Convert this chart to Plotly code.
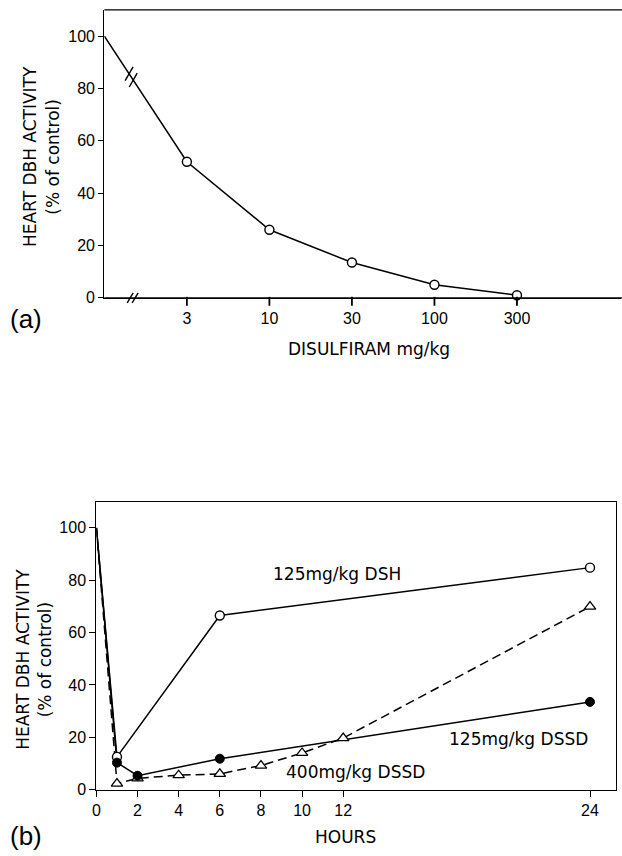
import plotly.graph_objects as go

# ---------------- data ----------------
# (a) dose-response
dose_labels = ["3", "10", "30", "100", "300"]
dose_index = [1, 2, 3, 4, 5]
control_index = [0]
control_value = [100]
dose_values = [52, 26, 13.5, 5, 1]

# (b) time course
hour_ticks = [0, 2, 4, 6, 8, 10, 12, 24]
dsh_hours = [0, 1, 6, 24]
dsh_values = [100, 12.5, 66.5, 84.8]
dssd125_hours = [0, 1, 2, 6, 24]
dssd125_values = [100, 10.3, 5.3, 11.8, 33.5]
dssd400_hours = [0, 1, 2, 4, 6, 8, 10, 12, 24]
dssd400_values = [100, 2.3, 4.3, 5.5, 6.0, 9.2, 14.0, 19.7, 69.9]

W, H = 622, 856
def px(x):
    return x / W
def py(y):
    return 1 - y / H

TICKFONT = dict(family="Liberation Sans, Arial, sans-serif", size=16, color="black")
TXTFONT = dict(family="DejaVu Sans, sans-serif", size=17, color="black")
LW = 1.5

# panel (a) axis geometry
XU, YU = 83.0, 2.65  # px per data unit
A_XDOM = [px(101), 0.999]
A_XRANGE = [0, (621 - 101) / XU]
A_YDOM = [py(301), py(10)]
A_YRANGE = [0, 110]

def ax_paper(d):
    return A_XDOM[0] + (d - A_XRANGE[0]) / (A_XRANGE[1] - A_XRANGE[0]) * (A_XDOM[1] - A_XDOM[0])
def ay_paper(v):
    return A_YDOM[0] + (v - A_YRANGE[0]) / (A_YRANGE[1] - A_YRANGE[0]) * (A_YDOM[1] - A_YDOM[0])

fig = go.Figure()

# ---- (a) ----
fig.add_trace(go.Scatter(
    x=control_index + dose_index, y=control_value + dose_values,
    mode="lines", line=dict(color="black", width=LW),
    xaxis="x", yaxis="y", showlegend=False, hoverinfo="skip", cliponaxis=False))
fig.add_trace(go.Scatter(
    x=dose_index, y=dose_values, mode="markers",
    marker=dict(symbol="circle", size=9, color="white", line=dict(color="black", width=1.4)),
    xaxis="x", yaxis="y", showlegend=False, cliponaxis=False))

# ---- (b) ----
fig.add_trace(go.Scatter(
    x=dssd400_hours, y=dssd400_values, mode="lines",
    line=dict(color="black", width=LW, dash="9px,5px"),
    xaxis="x2", yaxis="y2", showlegend=False))
fig.add_trace(go.Scatter(
    x=dsh_hours, y=dsh_values, mode="lines",
    line=dict(color="black", width=LW),
    xaxis="x2", yaxis="y2", showlegend=False))
fig.add_trace(go.Scatter(
    x=dssd125_hours, y=dssd125_values, mode="lines",
    line=dict(color="black", width=LW),
    xaxis="x2", yaxis="y2", showlegend=False))
fig.add_trace(go.Scatter(
    x=dssd400_hours[1:], y=dssd400_values[1:], mode="markers",
    marker=dict(symbol="triangle-up", size=10, color="white", line=dict(color="black", width=1.3)),
    xaxis="x2", yaxis="y2", showlegend=False, cliponaxis=False))
fig.add_trace(go.Scatter(
    x=dsh_hours[1:], y=dsh_values[1:], mode="markers",
    marker=dict(symbol="circle", size=9, color="white", line=dict(color="black", width=1.4)),
    xaxis="x2", yaxis="y2", showlegend=False, cliponaxis=False))
fig.add_trace(go.Scatter(
    x=dssd125_hours[1:], y=dssd125_values[1:], mode="markers",
    marker=dict(symbol="circle", size=9, color="black", line=dict(color="black", width=1)),
    xaxis="x2", yaxis="y2", showlegend=False, cliponaxis=False))

# ---- frame, ticks + break marks (decoration) on panel (a), in paper coords ----
blk = dict(color="black", width=1.3)
shapes = [
    dict(type="line", xref="paper", yref="paper", x0=A_XDOM[0], x1=1.0, y0=A_YDOM[1], y1=A_YDOM[1], line=blk),
    dict(type="line", xref="paper", yref="paper", x0=A_XDOM[0], x1=1.0, y0=A_YDOM[0], y1=A_YDOM[0], line=blk),
]
for d in dose_index:
    xp = ax_paper(d)
    shapes.append(dict(type="line", xref="paper", yref="paper", x0=xp, x1=xp,
                       y0=A_YDOM[0] + 1 / H, y1=A_YDOM[0] - 8 / H,
                       line=dict(color="black", width=1.8)))
# axis break "//"
for cx in (127, 132):
    shapes.append(dict(type="line", xref="paper", yref="paper",
                       x0=px(cx - 3), y0=A_YDOM[0] - 5 / H, x1=px(cx + 3), y1=A_YDOM[0] + 5 / H,
                       line=dict(color="black", width=1.4)))
# line break "//" on the first segment
seg = [(control_index[0], control_value[0]), (dose_index[0], dose_values[0])]
for cxd in (0.30, 0.35):
    yd = seg[0][1] + (seg[1][1] - seg[0][1]) * (cxd - seg[0][0]) / (seg[1][0] - seg[0][0])
    xp, yp = ax_paper(cxd), ay_paper(yd)
    shapes.append(dict(type="line", xref="paper", yref="paper",
                       x0=xp - 4 / W, y0=yp - 7 / H, x1=xp + 4 / W, y1=yp + 7 / H,
                       line=dict(color="black", width=1.4)))

annotations = [
    dict(text="HEART DBH ACTIVITY<br>(% of control)", x=px(38), y=py(158), xref="paper", yref="paper",
         textangle=-90, showarrow=False, font=TXTFONT, xanchor="center", yanchor="middle"),
    dict(text="HEART DBH ACTIVITY<br>(% of control)", x=px(30), y=py(666), xref="paper", yref="paper",
         textangle=-90, showarrow=False, font=TXTFONT, xanchor="center", yanchor="middle"),
    dict(text="DISULFIRAM mg/kg", x=px(367), y=py(353), xref="paper", yref="paper",
         showarrow=False, font=TXTFONT, xanchor="center", yanchor="middle"),
    dict(text="HOURS", x=px(344), y=py(846), xref="paper", yref="paper",
         showarrow=False, font=TXTFONT, xanchor="center", yanchor="middle"),
    dict(text="(a)", x=px(22), y=py(322), xref="paper", yref="paper",
         showarrow=False, font=dict(family="Liberation Sans, Arial", size=26, color="black"),
         xanchor="center", yanchor="middle"),
    dict(text="(b)", x=px(22), y=py(845), xref="paper", yref="paper",
         showarrow=False, font=dict(family="Liberation Sans, Arial", size=26, color="black"),
         xanchor="center", yanchor="middle"),
    dict(text="125mg/kg DSH", x=px(335), y=py(580), xref="paper", yref="paper",
         showarrow=False, font=TXTFONT, xanchor="center", yanchor="middle"),
    dict(text="125mg/kg DSSD", x=px(518), y=py(747), xref="paper", yref="paper",
         showarrow=False, font=TXTFONT, xanchor="center", yanchor="middle"),
    dict(text="400mg/kg DSSD", x=px(354), y=py(780), xref="paper", yref="paper",
         showarrow=False, font=TXTFONT, xanchor="center", yanchor="middle"),
]

axis_common = dict(showgrid=False, zeroline=False, showline=True, linecolor="black", linewidth=1.3,
                   ticks="outside", tickcolor="black", tickwidth=1.3, tickfont=TICKFONT)

fig.update_layout(
    width=W, height=H, margin=dict(l=0, r=0, t=0, b=0),
    paper_bgcolor="white", plot_bgcolor="white", showlegend=False,
    xaxis=dict(domain=A_XDOM, range=A_XRANGE, anchor="y",
               tickvals=dose_index, ticktext=dose_labels, ticklen=6, **axis_common),
    yaxis=dict(domain=A_YDOM, range=A_YRANGE, anchor="x",
               tickvals=[0, 20, 40, 60, 80, 100], ticklen=5, **axis_common),
    xaxis2=dict(domain=[px(93), px(616)], range=[0, (616 - 93) / 20.7], anchor="y2",
                tickvals=hour_ticks, ticklen=6, mirror=True, **axis_common),
    yaxis2=dict(domain=[py(798), py(507)], range=[0, 110], anchor="x2",
                tickvals=[0, 20, 40, 60, 80, 100], ticklen=6, mirror=True, **axis_common),
    shapes=shapes, annotations=annotations,
)

fig.write_html("out.html")
